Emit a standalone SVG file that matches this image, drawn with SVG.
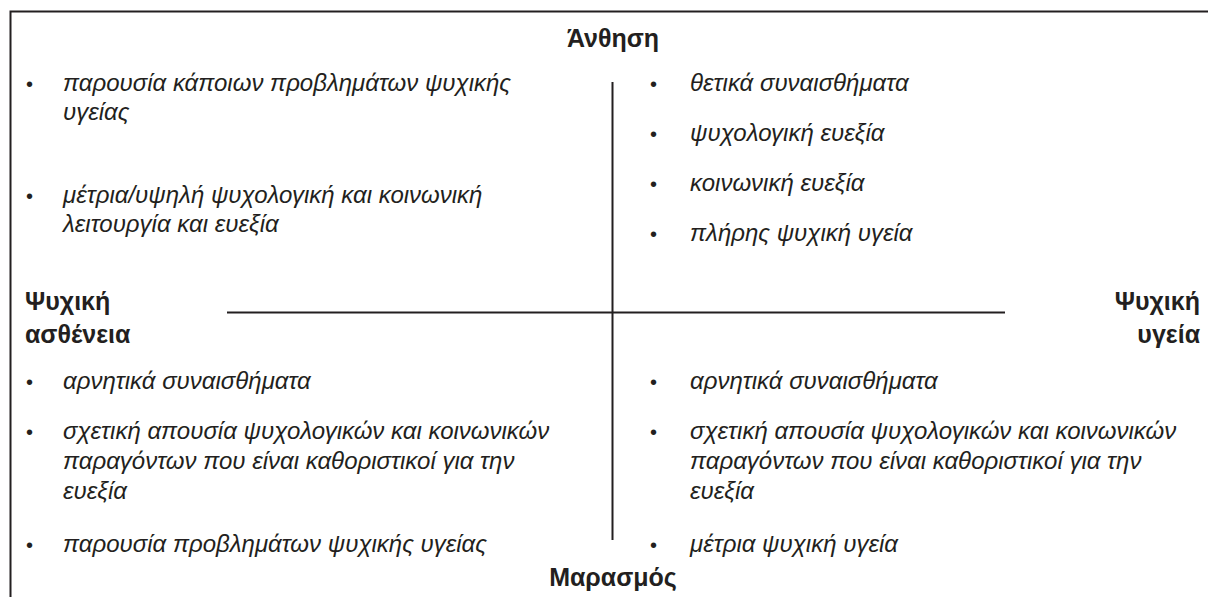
<svg xmlns="http://www.w3.org/2000/svg" width="1208" height="597" viewBox="0 0 1208 597">
<style>
.it{font-family:"Liberation Sans",Arial,sans-serif;font-style:italic;font-size:24px;fill:#231f20}
.bu{font-family:"Liberation Sans",Arial,sans-serif;font-size:20px;fill:#231f20}
.bd{font-family:"Liberation Sans",Arial,sans-serif;font-weight:bold;font-size:25px;fill:#231f20}
.ln{stroke:#231f20;stroke-width:2;fill:none}
</style>
<rect width="1208" height="597" fill="#fff"/>
<g id="frame"><path class="ln" d="M10.5 597 V11.5 H1208"/></g>
<g id="connectors">
<line class="ln" x1="612.5" y1="82" x2="612.5" y2="540"/>
<line class="ln" x1="227" y1="312.5" x2="1005" y2="312.5"/>
</g>
<g id="top-label"><text class="bd" x="613" y="47" text-anchor="middle">Άνθηση</text></g>
<g id="bottom-label"><text class="bd" x="613" y="586" text-anchor="middle">Μαρασμός</text></g>
<g id="left-label"><text class="bd" x="25" y="310">Ψυχική</text><text class="bd" x="25" y="343">ασθένεια</text></g>
<g id="right-label"><text class="bd" x="1200" y="310" text-anchor="end">Ψυχική</text><text class="bd" x="1200" y="343" text-anchor="end">υγεία</text></g>
<g id="top-left">
<text class="bu" x="26" y="91">•</text><text class="it" x="63" y="91">παρουσία κάποιων προβλημάτων ψυχικής</text><text class="it" x="63" y="120">υγείας</text>
<text class="bu" x="26" y="203">•</text><text class="it" x="63" y="203">μέτρια/υψηλή ψυχολογική και κοινωνική</text><text class="it" x="63" y="232">λειτουργία και ευεξία</text>
</g>
<g id="top-right">
<text class="bu" x="650" y="91">•</text><text class="it" x="690" y="91">θετικά συναισθήματα</text>
<text class="bu" x="650" y="141">•</text><text class="it" x="690" y="141">ψυχολογική ευεξία</text>
<text class="bu" x="650" y="191">•</text><text class="it" x="690" y="191">κοινωνική ευεξία</text>
<text class="bu" x="650" y="241">•</text><text class="it" x="690" y="241">πλήρης ψυχική υγεία</text>
</g>
<g id="bottom-left">
<text class="bu" x="26" y="389">•</text><text class="it" x="63" y="389">αρνητικά συναισθήματα</text>
<text class="bu" x="26" y="439">•</text><text class="it" x="63" y="439">σχετική απουσία ψυχολογικών και κοινωνικών</text><text class="it" x="63" y="469">παραγόντων που είναι καθοριστικοί για την</text><text class="it" x="63" y="499">ευεξία</text>
<text class="bu" x="26" y="552">•</text><text class="it" x="63" y="552">παρουσία προβλημάτων ψυχικής υγείας</text>
</g>
<g id="bottom-right">
<text class="bu" x="650" y="389">•</text><text class="it" x="690" y="389">αρνητικά συναισθήματα</text>
<text class="bu" x="650" y="439">•</text><text class="it" x="690" y="439">σχετική απουσία ψυχολογικών και κοινωνικών</text><text class="it" x="690" y="469">παραγόντων που είναι καθοριστικοί για την</text><text class="it" x="690" y="499">ευεξία</text>
<text class="bu" x="650" y="552">•</text><text class="it" x="690" y="552">μέτρια ψυχική υγεία</text>
</g>
</svg>
